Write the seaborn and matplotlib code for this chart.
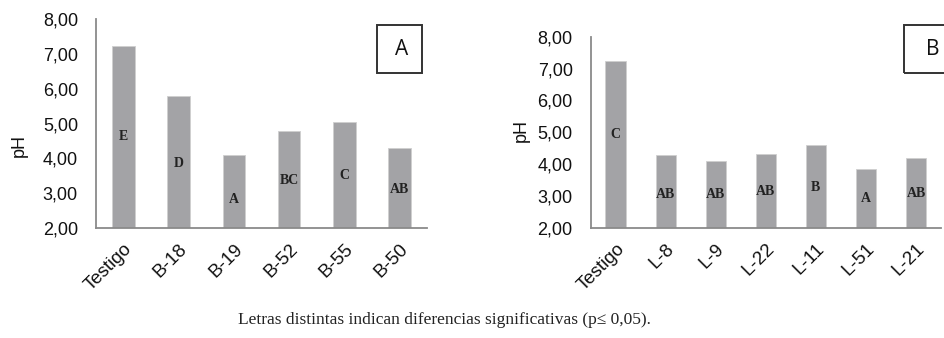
import numpy as np
import pandas as pd
import matplotlib
matplotlib.use("Agg")
import matplotlib.pyplot as plt
import seaborn as sns

# panel A data
cats_a = ["Testigo", "B-18", "B-19", "B-52", "B-55", "B-50"]
ph_a = [7.23, 5.79, 4.10, 4.78, 5.03, 4.29]
let_a = ["E", "D", "A", "BC", "C", "AB"]
let_y_a = [4.62, 3.85, 2.82, 3.37, 3.52, 3.11]

# panel B data
cats_b = ["Testigo", "L-8", "L-9", "L-22", "L-11", "L-51", "L-21"]
ph_b = [7.25, 4.29, 4.10, 4.31, 4.60, 3.84, 4.19]
let_b = ["C", "AB", "AB", "AB", "B", "A", "AB"]
let_y_b = [4.92, 3.04, 3.05, 3.14, 3.28, 2.91, 3.09]

sns.set_style("white")
plt.rcParams['font.family'] = ['Liberation Sans', 'DejaVu Sans']

fig = plt.figure(figsize=(9.45, 3.38), dpi=100)
ax1 = fig.add_axes([0.1016, 0.3254, 0.3503, 0.6183])
ax2 = fig.add_axes([0.6251, 0.3254, 0.3707, 0.5660])

bar_col = "#a3a3a6"
spine_col = "#8a8a8a"


def draw(ax, cats, vals, letters, let_y, tag, box, lab_xy):
    df = pd.DataFrame({"cat": cats, "ph": vals})
    sns.barplot(data=df, x="cat", y="ph", color=bar_col, width=0.41,
                edgecolor="#cfcfcf", linewidth=0.6, saturation=1, ax=ax)
    n = len(cats)
    ax.set_xlim(-0.5, n - 0.5)
    ax.set_ylim(2, 8)
    ax.set_yticks(np.arange(2, 8.01, 1))
    ax.set_yticklabels([f"{v:.2f}".replace(".", ",") for v in np.arange(2, 8.01, 1)])
    ax.set_xticks(range(n))
    ax.set_xticklabels(cats, rotation=45, ha="right", rotation_mode="anchor")
    ax.set_xticks(np.arange(-0.5, n, 1), minor=True)
    ax.tick_params(axis="x", which="major", length=0, pad=9, labelsize=13.5, colors="#111111")
    ax.tick_params(axis="x", which="minor", length=5, width=1.2, color=spine_col, direction="out")
    ax.tick_params(axis="y", length=5, width=1.2, color=spine_col, direction="out",
                   labelsize=13, labelcolor="#111111", pad=8)
    for s in ["top", "right"]:
        ax.spines[s].set_visible(False)
    for s in ["left", "bottom"]:
        ax.spines[s].set_color(spine_col)
        ax.spines[s].set_linewidth(1.3)
    ax.set_xlabel("")
    ax.set_ylabel("pH", fontsize=13, color="#111111")
    ax.yaxis.set_label_coords(*lab_xy)
    for i, (t, y) in enumerate(zip(letters, let_y)):
        ax.text(i, y, t, ha="center", va="center", fontsize=10, fontweight="bold",
                family=["Liberation Serif", "DejaVu Serif"], color="#222222")
    x0, y0, x1, y1 = box
    ax.add_patch(plt.Rectangle((x0, y0), x1 - x0, y1 - y0, transform=ax.transAxes,
                               fill=False, edgecolor="#333333", linewidth=1.4, clip_on=False))
    ax.text((x0 + x1) / 2 + 0.005, (y0 + y1) / 2, tag, transform=ax.transAxes,
            ha="center", va="center", fontsize=15, family=["Open Sans", "DejaVu Sans"],
            color="#111111")


draw(ax1, cats_a, ph_a, let_a, let_y_a, "A", (0.849, 0.742, 0.985, 0.971), (-0.205, 0.397))
draw(ax2, cats_b, ph_b, let_b, let_y_b, "B", (0.893, 0.810, 1.05, 1.061), (-0.173, 0.512))

fig.text(0.470, 0.053, "Letras distintas indican diferencias significativas (p\u2264 0,05).",
         ha="center", va="center", fontsize=12.5,
         family=["Liberation Serif", "DejaVu Serif"], color="#222222")

fig.savefig("out.png", dpi=100)
